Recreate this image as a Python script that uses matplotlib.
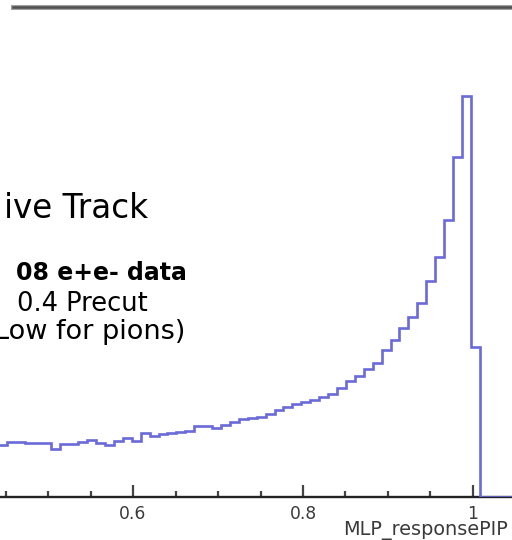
import numpy as np
import matplotlib
matplotlib.use("Agg")
import matplotlib.pyplot as plt
from matplotlib.lines import Line2D

# ---- data ----
bin_width = 0.0105
first_bin = 42
counts = [52, 55, 55, 54, 54, 54, 48, 53, 53, 55, 57, 54, 52, 56, 59, 56,
          64, 61, 63, 64, 65, 66, 71, 71, 69, 72, 75, 78, 79, 80, 83, 87,
          90, 93, 95, 97, 100, 103, 109, 116, 121, 128, 134, 147, 157, 169,
          180, 194, 216, 240, 277, 340, 401, 150, 0, 0, 0, 0]
major_ticks = [0.6, 0.8, 1.0]
major_labels = ["0.6", "0.8", "1"]
minor_ticks = [0.45, 0.5, 0.55, 0.65, 0.7, 0.75, 0.85, 0.9, 0.95]
x_title = "MLP_responsePIP"
text_lines = ["ive Track", "08 e+e- data", "0.4 Precut", "Low for pions)"]

W, H = 512, 540
fig = plt.figure(figsize=(W / 100, H / 100), dpi=100)

def fx(px):
    return px / W

def fy(py):
    return 1 - py / H

ax = fig.add_axes([0, fy(497), 1, fy(6) - fy(497)])
edges = (first_bin + np.arange(len(counts) + 1)) * bin_width
ax.stairs(counts, edges, color="#6a6ad8", linewidth=1.9, zorder=3)

for s in ["left", "right", "top"]:
    ax.spines[s].set_visible(False)
ax.spines["bottom"].set_linewidth(1.7)
ax.spines["bottom"].set_color("#222222")
ax.set_yticks([])
ax.set_xticks(major_ticks)
ax.set_xticklabels(major_labels)
ax.set_xticks(minor_ticks, minor=True)
ax.set_xlim(0.4435, 1.0459)
ax.set_ylim(0, 491)
ax.tick_params(axis="x", which="major", direction="in", length=9, width=1.6,
               color="#444444", pad=5.5, labelsize=12.3, labelcolor="#3a3a3a")
ax.tick_params(axis="x", which="minor", direction="in", length=4.5, width=1.6,
               color="#444444")
for lab in ax.get_xticklabels():
    lab.set_family("DejaVu Sans")

# top frame line
fig.add_artist(Line2D([fx(13), 1], [fy(6.5), fy(6.5)], color="#a0a0a0", lw=3.6))
fig.add_artist(Line2D([fx(13), 1], [fy(6.5), fy(6.5)], color="#505050", lw=1.8))

# axis title
fig.text(fx(343), fy(535), x_title, fontsize=13.9, color="#3a3a3a",
         family="DejaVu Sans", ha="left", va="baseline")

# text block
fig.text(fx(148), fy(218), text_lines[0], fontsize=23.5, color="black",
         family="DejaVu Sans", ha="right", va="baseline")
fig.text(fx(187), fy(280), text_lines[1], fontsize=17, color="black",
         family="DejaVu Sans", fontweight="bold", ha="right", va="baseline")
fig.text(fx(148), fy(311), text_lines[2], fontsize=18.5, color="black",
         family="DejaVu Sans", ha="right", va="baseline")
fig.text(fx(185), fy(339), text_lines[3], fontsize=19.5, color="black",
         family="DejaVu Sans", ha="right", va="baseline")

fig.savefig("out.png", dpi=100, facecolor="white")
